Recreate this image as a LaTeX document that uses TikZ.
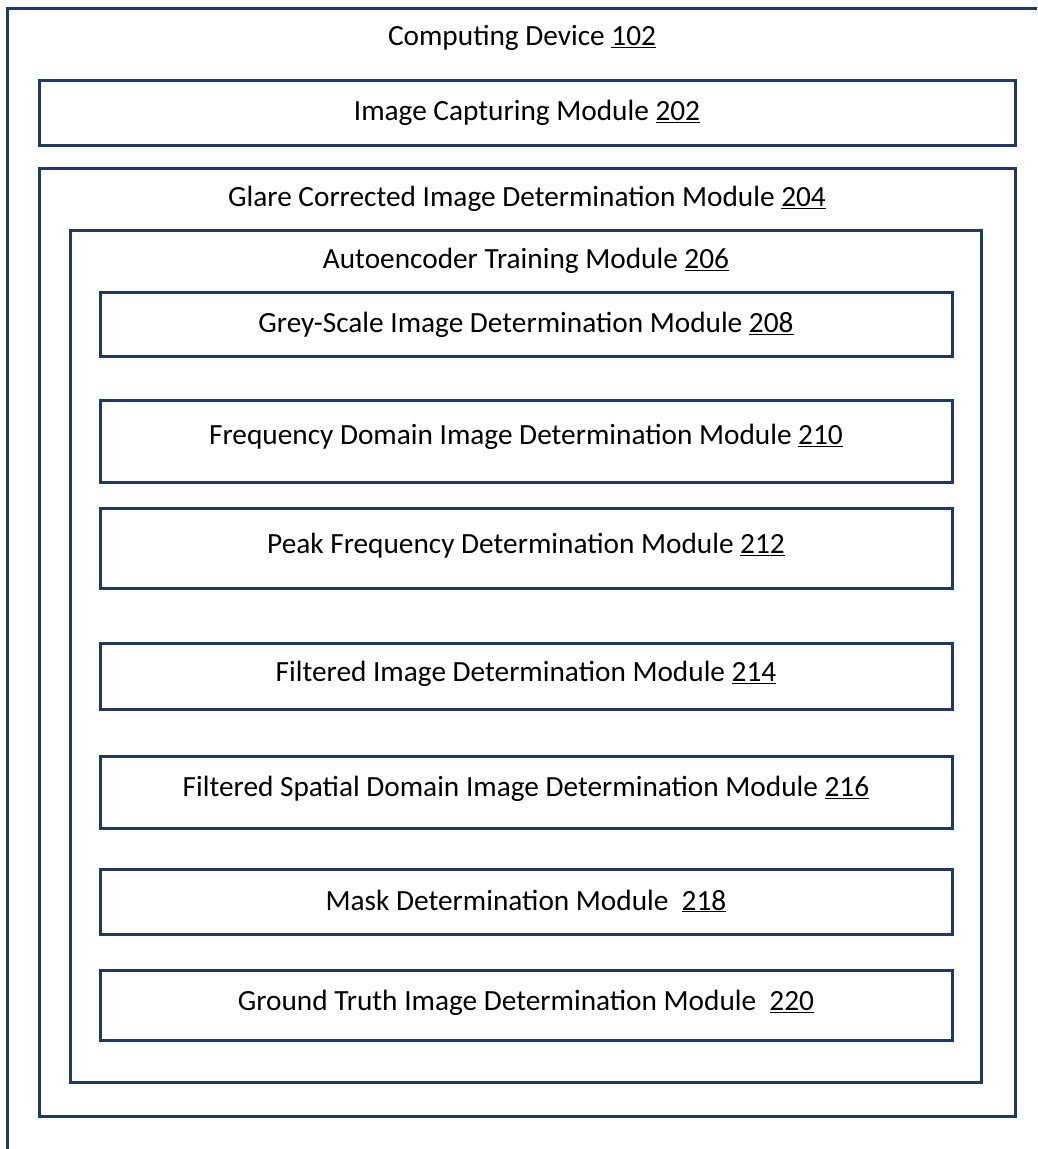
\documentclass[tikz,border=0pt]{standalone}
\usepackage{fontspec}
\setmainfont{Carlito}
\definecolor{navy}{HTML}{1F3864}
\begin{document}
\begin{tikzpicture}[x=1pt,y=-1pt,
  box/.style={draw=navy,line width=3pt},
  lbl/.style={font=\fontsize{29.3}{34}\selectfont,text=black,inner sep=0pt,anchor=center}]
\useasboundingbox (0,0) rectangle (1037,1149);
\draw[navy,line width=3pt] (7,1149) -- (7,8) -- (1037,8);
\node[lbl] (t102) at (522,38) {Computing Device \underline{102}};
\draw[box] (39,80) rectangle (1015,145);
\node[lbl] (t202) at (527,113) {Image Capturing Module \underline{202}};
\draw[box] (39,168) rectangle (1015,1116);
\node[lbl] (t204) at (527,199) {Glare Corrected Image Determination Module \underline{204}};
\draw[box] (70,230) rectangle (981,1082);
\node[lbl] (t206) at (526,261) {Autoencoder Training Module \underline{206}};
\draw[box] (100,292) rectangle (952,356);
\node[lbl] (t208) at (526,325) {Grey-Scale Image Determination Module \underline{208}};
\draw[box] (100,400) rectangle (952,482);
\node[lbl] (t210) at (526,437) {Frequency Domain Image Determination Module \underline{210}};
\draw[box] (100,508) rectangle (952,588);
\node[lbl] (t212) at (526,546) {Peak Frequency Determination Module \underline{212}};
\draw[box] (100,643) rectangle (952,709);
\node[lbl] (t214) at (526,674) {Filtered Image Determination Module \underline{214}};
\draw[box] (100,756) rectangle (952,828);
\node[lbl] (t216) at (526,789) {Filtered Spatial Domain Image Determination Module \underline{216}};
\draw[box] (100,869) rectangle (952,934);
\node[lbl] (t218) at (526,901) {Mask Determination Module\ \ \underline{218}};
\draw[box] (100,970) rectangle (952,1040);
\node[lbl] (t220) at (526,1003) {Ground Truth Image Determination Module\ \ \underline{220}};
\end{tikzpicture}
\end{document}
